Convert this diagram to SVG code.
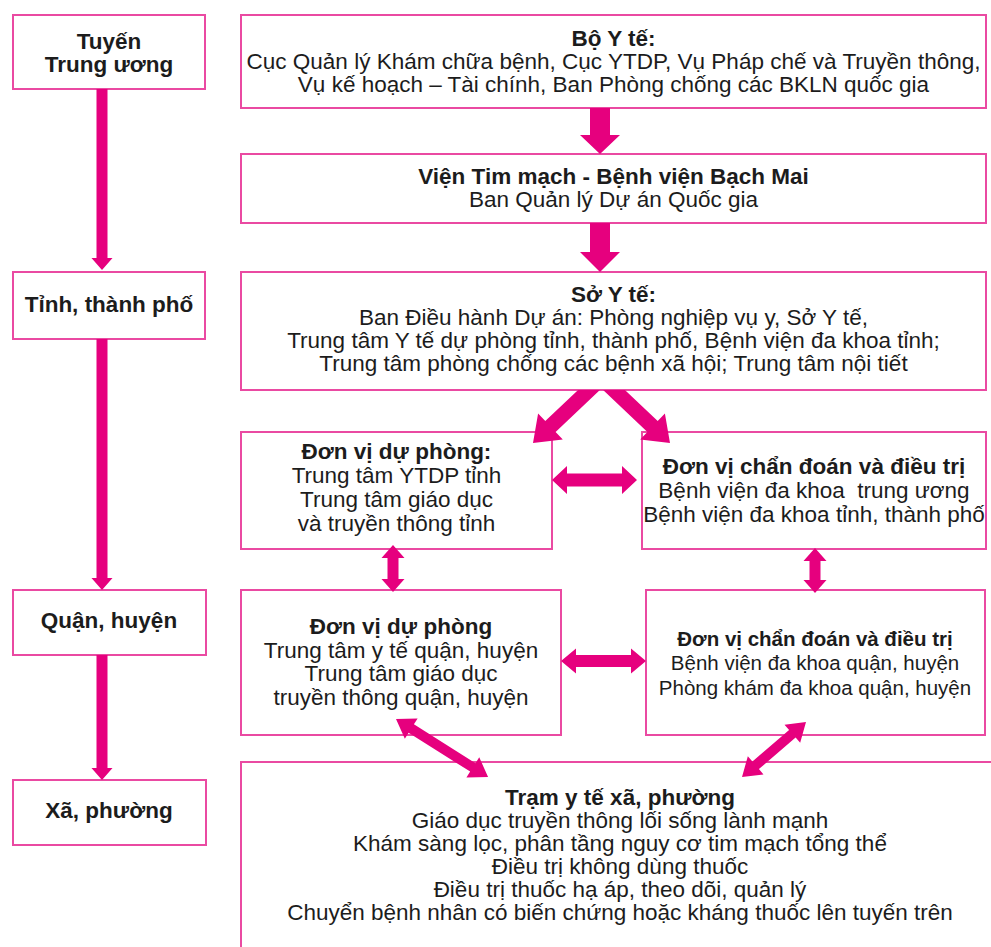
<svg xmlns="http://www.w3.org/2000/svg" width="991" height="947" viewBox="0 0 991 947">
  <style>
    .box { fill: #ffffff; stroke: #ea4aa2; stroke-width: 2; }
    .t { font-family: "Liberation Sans", Arial, sans-serif; font-size: 22.5px; fill: #1c1c1c; text-anchor: middle; }
    .s { font-size: 20.5px; }
    .b { font-weight: bold; }
    .pre { white-space: pre; }
    .arrow { fill: #e6007e; stroke: none; }
  </style>

  <!-- Left column: administrative levels -->
  <g id="level-central">
    <rect class="box" x="13" y="15" width="192" height="74"/>
    <text class="t b" x="109" y="49">Tuyến</text>
    <text class="t b" x="109" y="72">Trung ương</text>
  </g>
  <g id="level-province">
    <rect class="box" x="13" y="272" width="192" height="67"/>
    <text class="t b" x="109" y="312">Tỉnh, thành phố</text>
  </g>
  <g id="level-district">
    <rect class="box" x="13" y="590" width="193" height="65"/>
    <text class="t b" x="109" y="628">Quận, huyện</text>
  </g>
  <g id="level-commune">
    <rect class="box" x="13" y="780" width="193" height="65"/>
    <text class="t b" x="109" y="818">Xã, phường</text>
  </g>

  <!-- Right column: organisations -->
  <g id="ministry">
    <rect class="box" x="241" y="15" width="745" height="93"/>
    <text class="t b" x="613.5" y="46">Bộ Y tế:</text>
    <text class="t" x="613.5" y="69" textLength="734" lengthAdjust="spacingAndGlyphs">Cục Quản lý Khám chữa bệnh, Cục YTDP, Vụ Pháp chế và Truyền thông,</text>
    <text class="t" x="613.5" y="92">Vụ kế hoạch – Tài chính, Ban Phòng chống các BKLN quốc gia</text>
  </g>
  <g id="cardio-institute">
    <rect class="box" x="241" y="154" width="745" height="69"/>
    <text class="t b" x="613.5" y="184">Viện Tim mạch - Bệnh viện Bạch Mai</text>
    <text class="t" x="613.5" y="207">Ban Quản lý Dự án Quốc gia</text>
  </g>
  <g id="health-department">
    <rect class="box" x="241" y="272" width="745" height="118"/>
    <text class="t b" x="613.5" y="302">Sở Y tế:</text>
    <text class="t" x="613.5" y="325">Ban Điều hành Dự án: Phòng nghiệp vụ y, Sở Y tế,</text>
    <text class="t" x="613.5" y="348">Trung tâm Y tế dự phòng tỉnh, thành phố, Bệnh viện đa khoa tỉnh;</text>
    <text class="t" x="613.5" y="371">Trung tâm phòng chống các bệnh xã hội; Trung tâm nội tiết</text>
  </g>
  <g id="prevention-province">
    <rect class="box" x="241" y="432" width="311" height="117"/>
    <text class="t b" x="396.5" y="459">Đơn vị dự phòng:</text>
    <text class="t" x="396.5" y="483">Trung tâm YTDP tỉnh</text>
    <text class="t" x="396.5" y="507">Trung tâm giáo dục</text>
    <text class="t" x="396.5" y="531">và truyền thông tỉnh</text>
  </g>
  <g id="treatment-province">
    <rect class="box" x="642" y="432" width="344" height="117"/>
    <text class="t b" x="814" y="474">Đơn vị chẩn đoán và điều trị</text>
    <text class="t pre" x="814" y="498">Bệnh viện đa khoa  trung ương</text>
    <text class="t" x="814" y="522">Bệnh viện đa khoa tỉnh, thành phố</text>
  </g>
  <g id="prevention-district">
    <rect class="box" x="241" y="590" width="320" height="145"/>
    <text class="t b" x="401" y="634">Đơn vị dự phòng</text>
    <text class="t" x="401" y="658">Trung tâm y tế quận, huyện</text>
    <text class="t" x="401" y="681">Trung tâm giáo dục</text>
    <text class="t" x="401" y="705">truyền thông quận, huyện</text>
  </g>
  <g id="treatment-district">
    <rect class="box" x="646" y="590" width="339" height="145"/>
    <text class="t s b" x="815" y="646">Đơn vị chẩn đoán và điều trị</text>
    <text class="t s" x="815" y="670">Bệnh viện đa khoa quận, huyện</text>
    <text class="t s" x="815" y="695">Phòng khám đa khoa quận, huyện</text>
  </g>
  <g id="commune-station">
    <rect class="box" x="241" y="762" width="770" height="220"/>
    <text class="t b" x="620" y="805">Trạm y tế xã, phường</text>
    <text class="t" x="620" y="828">Giáo dục truyền thông lối sống lành mạnh</text>
    <text class="t" x="620" y="851">Khám sàng lọc, phân tầng nguy cơ tim mạch tổng thể</text>
    <text class="t" x="620" y="874">Điều trị không dùng thuốc</text>
    <text class="t" x="620" y="897">Điều trị thuốc hạ áp, theo dõi, quản lý</text>
    <text class="t" x="620" y="920">Chuyển bệnh nhân có biến chứng hoặc kháng thuốc lên tuyến trên</text>
  </g>

  <!-- Connectors -->
  <g id="connectors" class="arrow">
    <!-- level column -->
    <polygon class="arrow" points="96.5,89 107.5,89 107.5,258 112.5,258 102,270 91.5,258 96.5,258"/>
    <polygon class="arrow" points="96.5,339 107.5,339 107.5,578 112.5,578 102,590 91.5,578 96.5,578"/>
    <polygon class="arrow" points="96.5,655 107.5,655 107.5,768 112.5,768 102,780 91.5,768 96.5,768"/>
    <!-- ministry to institute to department -->
    <polygon class="arrow" points="590,108 610,108 610,135 620,135 600,154 580,135 590,135"/>
    <polygon class="arrow" points="590,223 610,223 610,252 620,252 600,272 580,252 590,252"/>
    <!-- department to provincial units -->
    <polygon class="arrow" points="578.1,390 599.9,390 555.6,432 562.8,439.6 533,443 538.1,413.4 545.3,421.1"/>
    <polygon class="arrow" points="603.1,390 624.9,390 657.7,421.1 664.9,413.4 670,443 640.2,439.6 647.4,432"/>
    <!-- provincial units, both ways -->
    <polygon class="arrow" points="552,480 567,466 567,473.5 622,473.5 622,466 637,480 622,494 622,486.5 567,486.5 567,494"/>
    <!-- province to district, both ways -->
    <polygon class="arrow" points="393,545 404.5,558 398.5,558 398.5,579 404.5,579 393,592 381.5,579 387.5,579 387.5,558 381.5,558"/>
    <polygon class="arrow" points="815,548 826.5,561 820.5,561 820.5,580 826.5,580 815,593 803.5,580 809.5,580 809.5,561 803.5,561"/>
    <!-- district units, both ways -->
    <polygon class="arrow" points="561,661 576,648.5 576,655 631,655 631,648.5 646,661 631,673.5 631,667 576,667 576,673.5"/>
    <!-- district to commune, both ways -->
    <polygon class="arrow" transform="translate(396,719) rotate(32.2)" points="0,0 18,-12 18,-5 90.8,-5 90.8,-12 108.8,0 90.8,12 90.8,5 18,5 18,12"/>
    <polygon class="arrow" transform="translate(806,722) rotate(139.3)" points="0,0 18,-12 18,-5 66.4,-5 66.4,-12 84.4,0 66.4,12 66.4,5 18,5 18,12"/>
  </g>
</svg>
